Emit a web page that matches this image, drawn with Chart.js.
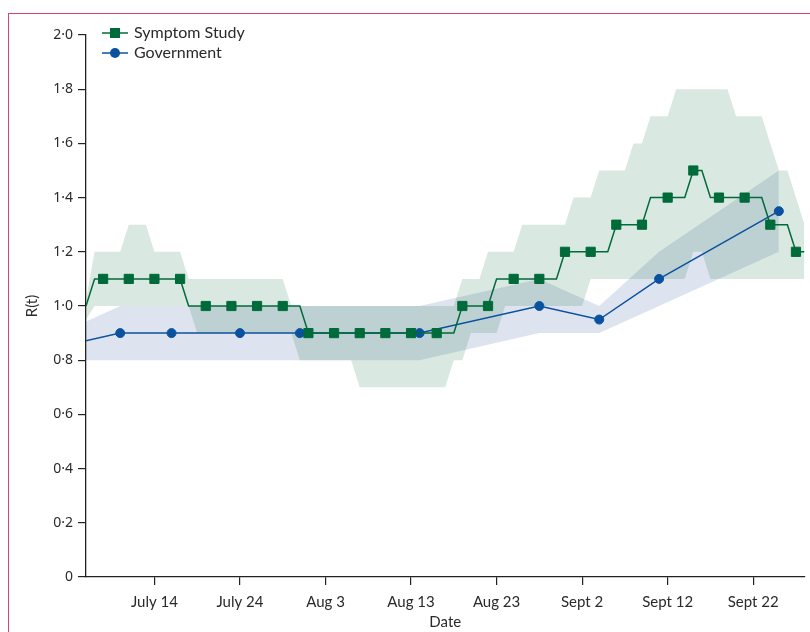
<!DOCTYPE html>
<html>
<head>
<meta charset="utf-8">
<script src="https://cdn.jsdelivr.net/npm/chart.js@4.4.1/dist/chart.umd.min.js"></script>
<style>
  body { margin: 0; background: #fff; }
  #wrap { position: relative; width: 810px; height: 632px; overflow: hidden; }
  #frame { position: absolute; left: 8px; top: 13px; width: 820px; height: 640px;
           border-top: 1.5px solid #d2456f; border-left: 1.5px solid #d2456f; }
  canvas { position: absolute; left: 0; top: 0; }
</style>
</head>
<body>
<div id="wrap"><div id="frame"></div><canvas id="rt" width="810" height="632"></canvas></div>
<script>
// day number = day of July (Aug 3 = 34, Sept 2 = 64 ...)
const days = [6,7,8,9,10,11,12,13,14,15,
  16,17,18,19,20,21,22,23,24,25,
  26,27,28,29,30,31,32,33,34,35,
  36,37,38,39,40,41,42,43,44,45,
  46,47,48,49,50,51,52,53,54,55,
  56,57,58,59,60,61,62,63,64,65,
  66,67,68,69,70,71,72,73,74,75,
  76,77,78,79,80,81,82,83,84,85,
  86,87,88,89,90];

// Symptom Study R(t) and its interval, one value per day
const ssR = [1.0,1.1,1.1,1.1,1.1,1.1,1.1,1.1,1.1,1.1,
  1.1,1.1,1.0,1.0,1.0,1.0,1.0,1.0,1.0,1.0,
  1.0,1.0,1.0,1.0,1.0,1.0,0.9,0.9,0.9,0.9,
  0.9,0.9,0.9,0.9,0.9,0.9,0.9,0.9,0.9,0.9,
  0.9,0.9,0.9,0.9,1.0,1.0,1.0,1.0,1.1,1.1,
  1.1,1.1,1.1,1.1,1.1,1.1,1.2,1.2,1.2,1.2,
  1.2,1.2,1.3,1.3,1.3,1.3,1.4,1.4,1.4,1.4,
  1.4,1.5,1.5,1.4,1.4,1.4,1.4,1.4,1.4,1.4,
  1.3,1.3,1.3,1.2,1.2];
const ssHigh = [1.02,1.2,1.2,1.2,1.2,1.3,1.3,1.3,1.2,1.2,
  1.2,1.2,1.1,1.1,1.1,1.1,1.1,1.1,1.1,1.1,
  1.1,1.1,1.1,1.1,1.0,1.0,1.0,1.0,1.0,1.0,
  1.0,1.0,1.0,1.0,1.0,1.0,1.0,1.0,1.0,1.0,
  1.0,1.0,1.0,1.0,1.1,1.1,1.1,1.2,1.2,1.2,
  1.2,1.3,1.3,1.3,1.3,1.3,1.3,1.4,1.4,1.4,
  1.5,1.5,1.5,1.5,1.6,1.6,1.7,1.7,1.7,1.8,
  1.8,1.8,1.8,1.8,1.8,1.8,1.7,1.7,1.7,1.7,
  1.6,1.5,1.5,1.4,1.3];
const ssLow = [0.95,1.0,1.0,1.0,1.0,1.0,1.0,1.0,1.0,1.0,
  1.0,1.0,1.0,0.9,0.9,0.9,0.9,0.9,0.9,0.9,
  0.9,0.9,0.9,0.9,0.9,0.8,0.8,0.8,0.8,0.8,
  0.8,0.8,0.7,0.7,0.7,0.7,0.7,0.7,0.7,0.7,
  0.7,0.7,0.7,0.8,0.8,0.9,0.9,0.9,0.9,1.0,
  1.0,1.0,1.0,1.0,1.0,1.0,1.0,1.0,1.0,1.1,
  1.1,1.1,1.1,1.1,1.1,1.1,1.1,1.1,1.1,1.1,
  1.1,1.2,1.2,1.1,1.1,1.1,1.1,1.1,1.1,1.1,
  1.1,1.1,1.1,1.1,1.1];
const ssMarkerDays = [8,11,14,17,20,23,26,29,32,35,38,41,44,47,50,53,56,59,62,65,68,71,74,77,80,83,86,89];

// Government estimates
const govDays = [3,10,16,24,31,45,59,66,73,87];
const govR    = [0.85,0.9,0.9,0.9,0.9,0.9,1.0,0.95,1.1,1.35];
const govLow  = [0.8,0.8,0.8,0.8,0.8,0.8,0.9,0.9,1.0,1.2];
const govHigh = [0.9,1.0,1.0,1.0,1.0,1.0,1.1,1.0,1.2,1.5];

const tickDays = [14,24,34,44,54,64,74,84];
const tickLabels = ['July 14','July 24','Aug 3','Aug 13','Aug 23','Sept 2','Sept 12','Sept 22'];

const green = '#006b3a';
const blue = '#0a52a0';
const axisColor = '#222';

const pts = (xs, ys) => xs.map((x, i) => ({x: x, y: ys[i]}));

// legend sits inside the plot, line + marker like the figure
const insetLegend = {
  id: 'insetLegend',
  afterDatasetsDraw(chart) {
    const ctx = chart.ctx;
    const items = chart.data.datasets.filter(d => d.label).reverse();
    ctx.save();
    items.forEach((d, i) => {
      const y = 33 + i * 20;
      ctx.strokeStyle = d.borderColor;
      ctx.lineWidth = 1.5;
      ctx.beginPath();
      ctx.moveTo(102, y);
      ctx.lineTo(128, y);
      ctx.stroke();
      ctx.fillStyle = d.pointBackgroundColor;
      if (d.pointStyle === 'rect') {
        ctx.fillRect(110, y - 5, 10, 10);
      } else {
        ctx.beginPath();
        ctx.arc(115, y, 5, 0, Math.PI * 2);
        ctx.fill();
      }
      ctx.fillStyle = '#2a2a2a';
      ctx.font = '16px Lato';
      ctx.textBaseline = 'middle';
      ctx.fillText(d.label, 134, y);
    });
    ctx.restore();
  }
};

new Chart(document.getElementById('rt'), {
  type: 'line',
  data: {
    datasets: [
      { data: pts(govDays, govLow), borderWidth: 0, pointRadius: 0, fill: false, order: 3 },
      { data: pts(govDays, govHigh), borderWidth: 0, pointRadius: 0, fill: '-1',
        backgroundColor: 'rgba(0,45,135,0.133)', order: 3 },
      { data: pts(days, ssLow), borderWidth: 0, pointRadius: 0, fill: false, order: 2 },
      { data: pts(days, ssHigh), borderWidth: 0, pointRadius: 0, fill: '-1',
        backgroundColor: 'rgba(0,100,45,0.15)', order: 2 },
      { label: 'Government', data: pts(govDays, govR), borderColor: blue, borderWidth: 1.5,
        pointStyle: 'circle', pointRadius: 4.5, pointBorderWidth: 1,
        pointBackgroundColor: blue, pointBorderColor: blue, fill: false, order: 1 },
      { label: 'Symptom Study', data: pts(days, ssR), borderColor: green, borderWidth: 1.5,
        pointStyle: 'rect', pointBorderWidth: 1,
        pointRadius: (c) => ssMarkerDays.includes(days[c.dataIndex]) ? 6.5 : 0,
        pointBackgroundColor: green, pointBorderColor: green, fill: false, order: 0 }
    ]
  },
  options: {
    responsive: false,
    animation: false,
    events: [],
    layout: { padding: { top: 35, right: 4, left: 0, bottom: 0 } },
    plugins: { legend: { display: false }, tooltip: { enabled: false } },
    elements: { line: { tension: 0 } },
    scales: {
      x: {
        type: 'linear',
        min: 6,
        max: 90,
        afterBuildTicks: (s) => { s.ticks = tickDays.map(v => ({ value: v })); },
        afterFit: (s) => { s.height = 55; },
        ticks: {
          autoSkip: false,
          maxRotation: 0,
          padding: 8,
          color: '#2a2a2a',
          font: { family: 'Lato', size: 15 },
          callback: (v) => tickLabels[tickDays.indexOf(v)]
        },
        grid: { drawOnChartArea: false, drawTicks: true, tickLength: 8, color: axisColor, lineWidth: 1.2 },
        border: { display: true, color: axisColor, width: 1.3 },
        title: { display: true, text: 'Date', color: '#2a2a2a',
                 font: { family: 'Lato', size: 15 }, padding: { top: 0, bottom: 1 } }
      },
      y: {
        min: 0,
        max: 2,
        afterFit: (s) => { s.width = 86; },
        ticks: {
          stepSize: 0.2,
          padding: 5,
          color: '#2a2a2a',
          font: { family: 'Noto Sans', size: 14 },
          callback: (v) => Math.abs(v) < 1e-9 ? '0' : v.toFixed(1).replace('.', '\u00b7')
        },
        grid: { drawOnChartArea: false, drawTicks: true, tickLength: 8, color: axisColor, lineWidth: 1.2 },
        border: { display: true, color: axisColor, width: 1.3 },
        title: { display: true, text: 'R(t)', color: '#2a2a2a',
                 font: { family: 'Lato', size: 15 }, padding: { top: 23, bottom: 0 } }
      }
    }
  },
  plugins: [insetLegend]
});
</script>
</body>
</html>
